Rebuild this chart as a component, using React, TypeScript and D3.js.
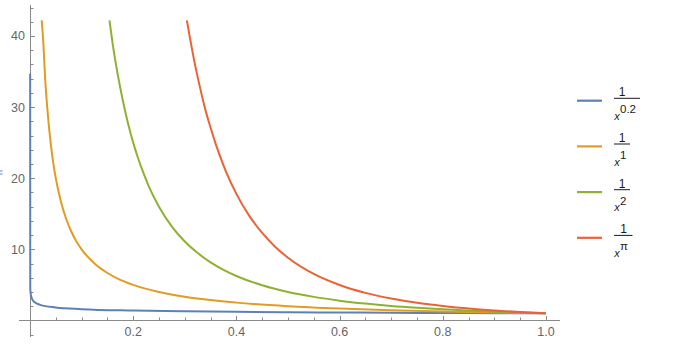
import React from "react";
import * as d3 from "d3";

// Values
const blueX = [0.0003, 0.0005, 0.001, 0.002, 0.005, 0.01, 0.02, 0.05, 0.1, 0.2, 0.3, 0.4, 0.5, 0.6, 0.7, 0.8, 0.9, 1.0];
const blueY = [34.7, 4.6, 3.98, 3.47, 2.88, 2.51, 2.19, 1.82, 1.58, 1.38, 1.27, 1.2, 1.15, 1.11, 1.07, 1.05, 1.02, 1.0];

const orangeX = [0.0227, 0.025, 0.03, 0.035, 0.04, 0.045, 0.05, 0.06, 0.07, 0.08, 0.09, 0.1, 0.125, 0.15, 0.175, 0.2, 0.25, 0.3, 0.4, 0.5, 0.6, 0.7, 0.8, 0.9, 1.0];
const orangeY = [42.2, 40, 33.3, 28.6, 25, 22.2, 20, 16.7, 14.3, 12.5, 11.1, 10, 8, 6.67, 5.71, 5, 4, 3.33, 2.5, 2, 1.67, 1.43, 1.25, 1.11, 1.0];

const greenX = [0.154, 0.16, 0.17, 0.18, 0.19, 0.2, 0.21, 0.22, 0.23, 0.25, 0.275, 0.3, 0.325, 0.35, 0.375, 0.4, 0.45, 0.5, 0.55, 0.6, 0.65, 0.7, 0.75, 0.8, 0.9, 1.0];
const greenY = [42.2, 39, 34.6, 30.9, 27.7, 25, 22.7, 20.7, 18.9, 16, 13.2, 11.1, 9.47, 8.16, 7.11, 6.25, 4.94, 4, 3.31, 2.78, 2.37, 2.04, 1.78, 1.56, 1.23, 1.0];

const redX = [0.304, 0.32, 0.33, 0.34, 0.35, 0.36, 0.375, 0.38, 0.4, 0.425, 0.45, 0.475, 0.5, 0.55, 0.6, 0.65, 0.7, 0.75, 0.8, 0.9, 1.0];
const redY = [42.2, 35.9, 32.6, 29.6, 27.1, 24.8, 21.8, 20.9, 17.8, 14.7, 12.3, 10.37, 8.82, 6.54, 4.98, 3.87, 3.07, 2.47, 2.02, 1.39, 1.0];

const seriesExponents = ["0.2", "1", "2", "π"];
const seriesColors = ["#5E81B5", "#E19C24", "#8FB131", "#EB6235"];

const xMajorTicks = [0.2, 0.4, 0.6, 0.8, 1.0];
const xTickLabels = ["0.2", "0.4", "0.6", "0.8", "1.0"];
const yMajorTicks = [10, 20, 30, 40];
const yTickLabels = ["10", "20", "30", "40"];

const W = 686;
const H = 352;

export default function App() {
  const x = d3.scaleLinear().domain([0, 1]).range([30, 546]);
  const y = d3.scaleLinear().domain([0, 40]).range([320.4, 36]);

  const xs = [blueX, orangeX, greenX, redX];
  const ys = [blueY, orangeY, greenY, redY];

  const line = d3
    .line<[number, number]>()
    .x((d) => x(d[0]))
    .y((d) => y(d[1]))
    .curve(d3.curveMonotoneX);

  const axisColor = "#8a8a8a";
  const labelColor = "#666666";
  const font = "'Liberation Sans', Arial, sans-serif";

  const x0 = Math.round(x(0)) + 0.5;
  const yAxisY = Math.round(y(0)) + 0.5;

  const xMinor = d3.range(0, 21).map((i) => i * 0.05).filter((v) => v > 0.001);
  const yMinor = d3.range(-1, 23).map((i) => i * 2);

  const legendY0 = 100.7;
  const legendStep = 45.7;
  const barWidths = [26, 16, 16, 18.5];
  const numX = [622, 622, 622, 623.5];

  return (
    <div style={{ position: "absolute", left: 0, top: 0 }}>
      <svg width={W} height={H} viewBox={`0 0 ${W} ${H}`} style={{ display: "block", background: "#fff" }}>
        {/* axes */}
        <line x1={19} x2={560} y1={yAxisY} y2={yAxisY} stroke={axisColor} strokeWidth={1} />
        <line x1={x0} x2={x0} y1={5} y2={337} stroke={axisColor} strokeWidth={1} />

        {/* x ticks */}
        {xMinor.map((v, i) => {
          const major = xMajorTicks.some((m) => Math.abs(m - v) < 1e-6);
          const px = Math.round(x(v)) + 0.5;
          return (
            <line key={"xm" + i} x1={px} x2={px} y1={yAxisY} y2={yAxisY - (major ? 4.5 : 3)} stroke={axisColor} strokeWidth={1} />
          );
        })}
        {xMajorTicks.map((v, i) => (
          <text key={"xl" + i} x={x(v)} y={336} textAnchor="middle" fontFamily={font} fontSize={12.5} fill={labelColor}>
            {xTickLabels[i]}
          </text>
        ))}

        {/* y ticks */}
        {yMinor.map((v, i) => {
          if (v === 0) return null;
          const major = yMajorTicks.includes(v);
          const py = Math.round(y(v)) + 0.5;
          return (
            <line key={"ym" + i} x1={x0} x2={x0 + (major ? 4.5 : 3)} y1={py} y2={py} stroke={axisColor} strokeWidth={1} />
          );
        })}
        {yMajorTicks.map((v, i) => (
          <text key={"yl" + i} x={25} y={y(v) + 4.4} textAnchor="end" fontFamily={font} fontSize={12.5} fill={labelColor}>
            {yTickLabels[i]}
          </text>
        ))}

        {/* clipped axis-label fragment at the left edge */}
        <line x1={0} x2={2.5} y1={171} y2={171} stroke="#4f86c6" strokeWidth={1} />
        <line x1={0} x2={2.5} y1={174} y2={174} stroke="#4f86c6" strokeWidth={1} />

        {/* curves */}
        {xs.map((xv, si) => {
          const pts: [number, number][] = xv.map((v, k) => [v, ys[si][k]]);
          return (
            <path
              key={"s" + si}
              d={line(pts) || ""}
              fill="none"
              stroke={seriesColors[si]}
              strokeWidth={2}
              strokeLinejoin="round"
              strokeLinecap="butt"
            />
          );
        })}

        {/* legend */}
        {seriesExponents.map((ex, i) => {
          const ly = legendY0 + legendStep * i;
          const barY = ly - 2.4;
          return (
            <g key={"lg" + i}>
              <line x1={577} x2={602} y1={ly} y2={ly} stroke={seriesColors[i]} strokeWidth={2.2} />
              <text x={numX[i]} y={barY - 2} textAnchor="middle" fontFamily={font} fontSize={12} fill="#1a1a1a">
                1
              </text>
              <line x1={614} x2={614 + barWidths[i]} y1={barY} y2={barY} stroke="#1a1a1a" strokeWidth={1} />
              <text x={614.3} y={barY + 21.5} fontFamily={font} fontSize={11} fontStyle="italic" fill="#1a1a1a">
                x
              </text>
              <text x={620} y={barY + 15} fontFamily={font} fontSize={11.5} fill="#1a1a1a">
                {ex}
              </text>
            </g>
          );
        })}
      </svg>
    </div>
  );
}
